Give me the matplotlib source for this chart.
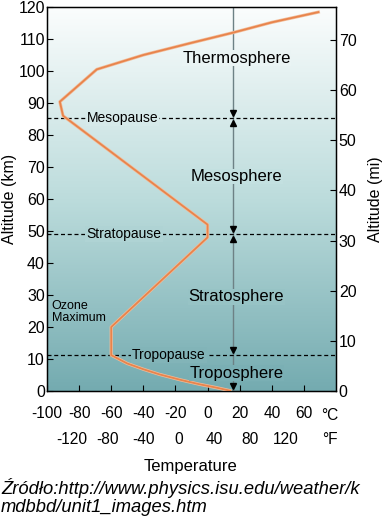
import numpy as np
import matplotlib
matplotlib.use("Agg")
import matplotlib.pyplot as plt
import matplotlib.patheffects as pe
from matplotlib.colors import LinearSegmentedColormap
from matplotlib.transforms import ScaledTranslation

plt.rcParams['font.family'] = ['Liberation Sans', 'DejaVu Sans']

# temperature profile (deg C, km)
temp_c = [14, 5, -5, -17, -30, -40, -50, -60, -60, 0, 0, -90, -92, -69, -40, -10, 16, 40, 69]
alt_km = [0.1, 1.1, 2.1, 3.5, 5.2, 6.8, 8.6, 11.2, 20, 48, 52, 86, 90.4, 100.5, 105, 108.8, 112, 115.2, 118.4]

# layer boundaries
pause_names = ['Mesopause', 'Stratopause', 'Tropopause']
pause_alt = [85.3, 49, 11.25]
pause_label_x = [-53, -52, -24]

layer_names = ['Thermosphere', 'Mesosphere', 'Stratosphere', 'Troposphere']
layer_alt = [104, 67, 29.4, 5.6]
surface_temp = 16

c_ticks = [-100, -80, -60, -40, -20, 0, 20, 40, 60]
f_ticks = [-120, -80, -40, 0, 40, 80, 120]
km_ticks = [0, 10, 20, 30, 40, 50, 60, 70, 80, 90, 100, 110, 120]
mi_ticks = [0, 10, 20, 30, 40, 50, 60, 70]

km_per_mi = 1.567  # as drawn in the source figure

fig = plt.figure(figsize=(3.9, 5.24), dpi=100)
ax = fig.add_axes([47/390, 133/524, 289/390, 384/524])
ax.set_xlim(-100, 80)
ax.set_ylim(0, 120)

# background gradient
bg = LinearSegmentedColormap.from_list('bg', [(0, '#74abb0'), (0.5, '#bcdcdc'), (1, '#fbfdfd')])
grad = np.linspace(0, 1, 256).reshape(-1, 1)
ax.imshow(grad, extent=[-100, 80, 0, 120], origin='lower', aspect='auto', cmap=bg, zorder=0)

def bgcol(km):
    return bg(km / 120)

# vertical reference line
ax.axvline(surface_temp, color='#6d8185', lw=1, zorder=2)

# temperature curve
ax.plot(temp_c, alt_km, color='#e8844c', lw=1.3, zorder=4,
        path_effects=[pe.Stroke(linewidth=2.3, foreground='#f2bd9a'), pe.Normal()])

# dashed boundaries with labels
for name, h, lx in zip(pause_names, pause_alt, pause_label_x):
    ax.axhline(h, color='black', lw=0.9, dashes=(3.2, 2.2), zorder=3)
    ax.text(lx, h, name, fontsize=10, ha='center', va='center', zorder=5,
            bbox=dict(facecolor=bgcol(h), edgecolor='none', pad=0.8))

# arrow heads
up = ScaledTranslation(0, 3.5/72, fig.dpi_scale_trans)
dn = ScaledTranslation(0, -3.5/72, fig.dpi_scale_trans)
for h in pause_alt + [0]:
    ax.plot([surface_temp], [h], marker='v', color='black', ms=5, zorder=6,
            transform=ax.transData + up, clip_on=False)
for h in pause_alt[:2]:
    ax.plot([surface_temp], [h], marker='^', color='black', ms=5, zorder=6,
            transform=ax.transData + dn)

for name, h in zip(layer_names, layer_alt):
    ax.text(18, h, name, fontsize=12, ha='center', va='center', zorder=5,
            bbox=dict(facecolor=bgcol(h), edgecolor='none', pad=0.3))

ax.text(-97, 24.7, 'Ozone\nMaximum', fontsize=9, ha='left', va='center', linespacing=1.1, zorder=5)

# axes styling
ax.set_xticks(c_ticks)
ax.set_xticklabels([str(t) for t in c_ticks], fontsize=11.2)
ax.set_yticks(km_ticks)
ax.set_yticklabels([str(t) for t in km_ticks], fontsize=11.5)
ax.tick_params(direction='in', length=4, width=0.8)
ax.tick_params(axis='x', pad=11)
ax.tick_params(axis='y', pad=1.5)
for s in ax.spines.values():
    s.set_linewidth(1)
ax.set_ylabel('Altitude (km)', fontsize=11.5, labelpad=1)

secf = ax.secondary_xaxis(-0.094, functions=(lambda c: c * 9/5 + 32, lambda f: (f - 32) * 5/9))
secf.set_xticks(f_ticks)
secf.set_xticklabels([str(t) for t in f_ticks], fontsize=11.2)
secf.tick_params(length=0, pad=3.5)
secf.spines['bottom'].set_visible(False)

axr = ax.twinx()
axr.set_ylim(0, 120 / km_per_mi)
axr.set_yticks(mi_ticks)
axr.set_yticklabels([str(t) for t in mi_ticks], fontsize=11.5)
axr.tick_params(direction='in', length=4, width=0.8, pad=2)
axr.set_ylabel('Altitude (mi)', fontsize=11.5, rotation=90, labelpad=8)

fig.text(330/390, 1 - 415/524, '\u00b0C', fontsize=11.2, ha='center', va='center')
fig.text(330/390, 1 - 440/524, '\u00b0F', fontsize=11.2, ha='center', va='center')
fig.text(191/390, 1 - 467/524, 'Temperature', fontsize=12, ha='center', va='center')
fig.text(1/390, 1 - 488/524, '\u0179r\u00f3d\u0142o:http://www.physics.isu.edu/weather/k',
         fontsize=13.2, style='italic', ha='left', va='center')
fig.text(1/390, 1 - 508/524, 'mdbbd/unit1_images.htm',
         fontsize=13.2, style='italic', ha='left', va='center')

fig.savefig('out.png', dpi=100)
